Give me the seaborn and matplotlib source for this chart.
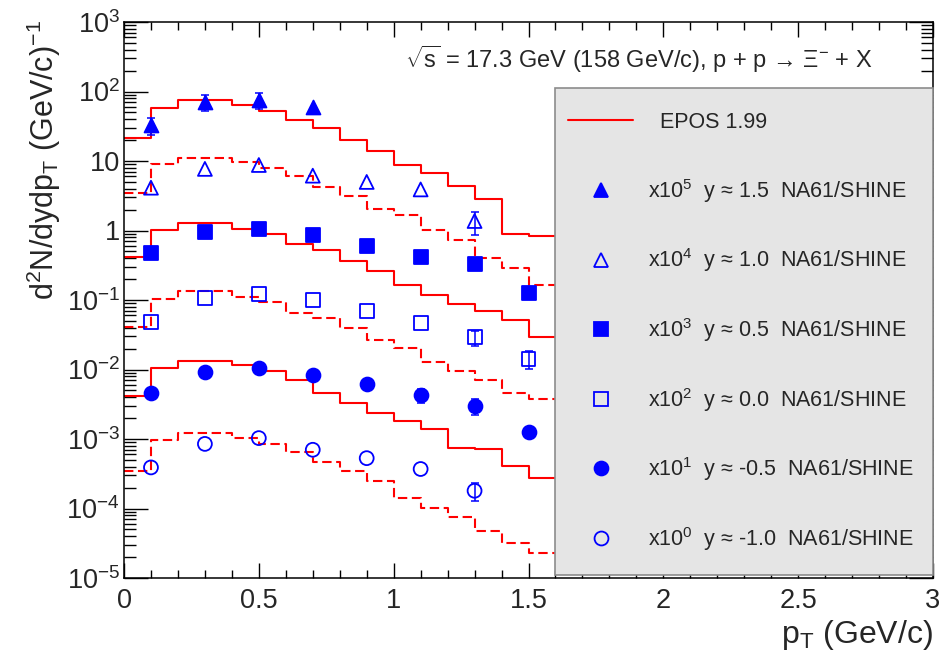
import matplotlib
matplotlib.use("Agg")
import numpy as np
import pandas as pd
import matplotlib.pyplot as plt
import seaborn as sns
from matplotlib.lines import Line2D
from matplotlib.legend_handler import HandlerLine2D
from matplotlib.ticker import FixedLocator, FixedFormatter, LogLocator, MultipleLocator, NullFormatter

# ---------------- data ----------------
bin_edges = [0.0, 0.1, 0.2, 0.3, 0.4, 0.5, 0.6, 0.7, 0.8, 0.9, 1.0,
             1.1, 1.2, 1.3, 1.4, 1.5, 1.6]

# EPOS 1.99 histograms (already multiplied by the scale factor)
epos_y15 = [21.6, 57.3, 74.7, 74.7, 64.0, 52.4, 38.5, 29.5, 19.8, 13.9,
            8.7, 6.8, 4.4, 2.8, 0.90, 0.82]
epos_y10 = [3.43, 8.96, 11.0, 11.0, 9.7, 7.8, 6.0, 4.2, 3.13, 2.06,
            1.67, 1.02, 0.74, 0.40, 0.29, 0.164]
epos_y05 = [0.420, 1.007, 1.29, 1.29, 1.05, 0.89, 0.63, 0.52, 0.36, 0.264,
            0.164, 0.118, 0.087, 0.0695, 0.0516, 0.029]
epos_y00 = [0.0413, 0.103, 0.136, 0.136, 0.111, 0.0946, 0.0656, 0.0545, 0.040,
            0.0263, 0.0204, 0.0129, 0.0095, 0.0070, 0.00459, 0.0038]
epos_ym05 = [0.00416, 0.0104, 0.0134, 0.0134, 0.0116, 0.0095, 0.0070, 0.0046,
             0.00333, 0.00234, 0.00182, 0.00141, 0.00075, 0.00072, 0.00041, 0.000272]
epos_ym10 = [0.000347, 0.00097, 0.00121, 0.00121, 0.00104, 0.00085, 0.00064,
             0.00047, 0.00035, 0.000246, 0.00014, 0.000102, 0.0000755,
             0.000048, 0.0000316, 0.0000231]

# NA61/SHINE points (already multiplied by the scale factor)
pt_y15 = [0.1, 0.3, 0.5, 0.7]
na61_y15 = [33.0, 71.0, 75.0, 60.5]
na61_y15_err = [9.0, 18.0, 19.0, 8.0]

pt_y10 = [0.1, 0.3, 0.5, 0.7, 0.9, 1.1, 1.3]
na61_y10 = [4.13, 7.7, 8.76, 6.15, 5.0, 3.9, 1.37]
na61_y10_err = [0.6, 0.9, 1.0, 0.7, 0.6, 0.5, 0.5]

pt_y05 = [0.1, 0.3, 0.5, 0.7, 0.9, 1.1, 1.3, 1.5]
na61_y05 = [0.47, 0.95, 1.05, 0.87, 0.60, 0.42, 0.326, 0.125]
na61_y05_err = [0.05, 0.08, 0.09, 0.08, 0.06, 0.05, 0.04, 0.02]

pt_y00 = [0.1, 0.3, 0.5, 0.7, 0.9, 1.1, 1.3, 1.5]
na61_y00 = [0.0487, 0.106, 0.122, 0.100, 0.0695, 0.0462, 0.029, 0.0142]
na61_y00_err = [0.005, 0.009, 0.010, 0.009, 0.007, 0.005, 0.007, 0.004]

pt_ym05 = [0.1, 0.3, 0.5, 0.7, 0.9, 1.1, 1.3, 1.5]
na61_ym05 = [0.00455, 0.0093, 0.0104, 0.0084, 0.0062, 0.0043, 0.0030, 0.00126]
na61_ym05_err = [0.0004, 0.0008, 0.0009, 0.0008, 0.0006, 0.001, 0.0008, 0.00015]

pt_ym10 = [0.1, 0.3, 0.5, 0.7, 0.9, 1.1, 1.3]
na61_ym10 = [0.00039, 0.00085, 0.00103, 0.00070, 0.00053, 0.00037, 0.00018]
na61_ym10_err = [0.00004, 0.00008, 0.0001, 0.00007, 0.00005, 0.00004, 0.00005]

legend_labels = [
    "  EPOS 1.99",
    r"x$\mathregular{10^{5}}$  y ≈ 1.5  NA61/SHINE",
    r"x$\mathregular{10^{4}}$  y ≈ 1.0  NA61/SHINE",
    r"x$\mathregular{10^{3}}$  y ≈ 0.5  NA61/SHINE",
    r"x$\mathregular{10^{2}}$  y ≈ 0.0  NA61/SHINE",
    r"x$\mathregular{10^{1}}$  y ≈ -0.5  NA61/SHINE",
    r"x$\mathregular{10^{0}}$  y ≈ -1.0  NA61/SHINE",
]

ytick_values = [1e-5, 1e-4, 1e-3, 1e-2, 1e-1, 1, 10, 1e2, 1e3]
ytick_labels = [r"$\mathregular{10^{-5}}$", r"$\mathregular{10^{-4}}$",
                r"$\mathregular{10^{-3}}$", r"$\mathregular{10^{-2}}$",
                r"$\mathregular{10^{-1}}$", "1", "10",
                r"$\mathregular{10^{2}}$", r"$\mathregular{10^{3}}$"]
xtick_values = [0, 0.5, 1, 1.5, 2, 2.5, 3]
xtick_labels = ["0", "0.5", "1", "1.5", "2", "2.5", "3"]

title_text = r"$\mathregular{\sqrt{s}}$ = 17.3 GeV (158 GeV/c), p + p → $\mathregular{\Xi^{-}}$ + X"

# ---------------- style ----------------
sns.set_style("ticks")
plt.rcParams["font.family"] = ["Liberation Sans", "DejaVu Sans"]
plt.rcParams["mathtext.fontset"] = "custom"
plt.rcParams["mathtext.rm"] = "Liberation Sans"
plt.rcParams["mathtext.it"] = "Liberation Sans:italic"
plt.rcParams["mathtext.bf"] = "Liberation Sans:bold"
plt.rcParams["axes.unicode_minus"] = True

RED = "#ff0000"
BLUE = "#0000ff"

fig = plt.figure(figsize=(9.43, 6.66), dpi=100)
ax = fig.add_axes([124 / 943, 1 - 578 / 666, 809 / 943, 556 / 666])
ax.set_yscale("log")
ax.set_xlim(0, 3)
ax.set_ylim(1e-5, 1e3)

# ---------------- EPOS histograms ----------------
epos_series = [epos_y15, epos_y10, epos_y05, epos_y00, epos_ym05, epos_ym10]
DASH = (0, (4.5, 2.2))
epos_styles = ["-", DASH, "-", DASH, "-", DASH]
for vals, ls in zip(epos_series, epos_styles):
    df = pd.DataFrame({"pT": bin_edges, "val": list(vals) + [vals[-1]]})
    sns.lineplot(data=df, x="pT", y="val", ax=ax, color=RED, linewidth=1.5,
                 linestyle=ls, drawstyle="steps-post", estimator=None,
                 sort=False, legend=False, zorder=2)

# ---------------- NA61 points ----------------
na61 = [
    (pt_y15, na61_y15, na61_y15_err, "^", True),
    (pt_y10, na61_y10, na61_y10_err, "^", False),
    (pt_y05, na61_y05, na61_y05_err, "s", True),
    (pt_y00, na61_y00, na61_y00_err, "s", False),
    (pt_ym05, na61_ym05, na61_ym05_err, "o", True),
    (pt_ym10, na61_ym10, na61_ym10_err, "o", False),
]
MARKER_HALF_DEC = 0.085  # half marker height in decades (~6 px)
for x, y, e, m, filled in na61:
    xa, ya, ea = np.array(x), np.array(y), np.array(e)
    # error bars that stay inside the marker are not drawn (as in ROOT)
    vis = np.log10((ya + ea) / ya) > MARKER_HALF_DEC
    if vis.any():
        ax.errorbar(xa[vis], ya[vis], yerr=ea[vis], fmt="none", ecolor=BLUE,
                    elinewidth=1.1, capsize=2.6, capthick=1.1, zorder=3)
    sns.scatterplot(x=x, y=y, ax=ax, marker=m, s=100, color=BLUE,
                    facecolor=BLUE if filled else "none", edgecolor=BLUE,
                    linewidth=1.3, legend=False, zorder=4)

# ---------------- axes ----------------
ax.xaxis.set_major_locator(FixedLocator(xtick_values))
ax.xaxis.set_major_formatter(FixedFormatter(xtick_labels))
ax.xaxis.set_minor_locator(MultipleLocator(0.1))
ax.yaxis.set_major_locator(FixedLocator(ytick_values))
ax.yaxis.set_major_formatter(FixedFormatter(ytick_labels))
ax.yaxis.set_minor_locator(LogLocator(base=10, subs=np.arange(2, 10), numticks=50))
ax.yaxis.set_minor_formatter(NullFormatter())

ax.tick_params(axis="both", which="both", direction="in", top=True, right=True,
               width=1.0, color="black")
ax.tick_params(axis="x", which="major", length=11, pad=7, labelsize=19.5)
ax.tick_params(axis="x", which="minor", length=5.5)
ax.tick_params(axis="y", which="major", length=17, pad=3, labelsize=19.5)
ax.tick_params(axis="y", which="minor", length=8.5)
for s in ax.spines.values():
    s.set_linewidth(1.1)
    s.set_color("black")

ax.set_xlabel(r"$\mathregular{p_{T}}$ (GeV/c)", fontsize=23, loc="right")
ax.xaxis.set_label_coords(1.0, -(618 - 578) / 556)
ax.set_ylabel(r"$\mathregular{d^{2}N/dydp_{T}\ (GeV/c)^{-1}}$", fontsize=22, loc="top")
ax.yaxis.set_label_coords((63 - 124) / 809, 1 - (20 - 22) / 556)

ax.text((405 - 124) / 809, 1 - (68 - 22) / 556, title_text, transform=ax.transAxes,
        fontsize=17, ha="left", va="baseline")

# ---------------- legend ----------------
class LegHandler(HandlerLine2D):
    def __init__(self, xpad=0.0, **kw):
        super().__init__(**kw)
        self.xpad = xpad

    def create_artists(self, legend, orig_handle, xdescent, ydescent, width,
                       height, fontsize, trans):
        new_yd = height - 0.72 * fontsize
        return super().create_artists(legend, orig_handle, xdescent - self.xpad,
                                      new_yd, width - 2 * self.xpad, height,
                                      fontsize, trans)

handles = [Line2D([], [], color=RED, lw=1.5)]
for x, y, e, m, filled in na61:
    handles.append(Line2D([], [], linestyle="none", marker=m, markersize=10,
                          markerfacecolor=BLUE if filled else "none",
                          markeredgecolor=BLUE, markeredgewidth=1.3))

leg_fs = 15.5
fs_px = leg_fs * 100 / 72
row_px = 69.6
hh = (row_px / fs_px - 0.245) / 0.65
leg = ax.legend(handles, legend_labels, loc="upper left",
                bbox_to_anchor=((555 - 124) / 809, 0.0, (933 - 555) / 809, 1 - (88 - 22) / 556),
                mode="expand", borderaxespad=0, borderpad=0.0, labelspacing=0,
                handleheight=hh, handlelength=91.7 / fs_px,
                handletextpad=0.05, fontsize=leg_fs, frameon=True, fancybox=False,
                framealpha=1, facecolor="#e5e5e5", edgecolor="#8c8c8c",
                handler_map={Line2D: LegHandler(xpad=9.7)})
leg.get_frame().set_linewidth(1.2)
leg.set_zorder(10)

fig.savefig("out.png", dpi=100)
